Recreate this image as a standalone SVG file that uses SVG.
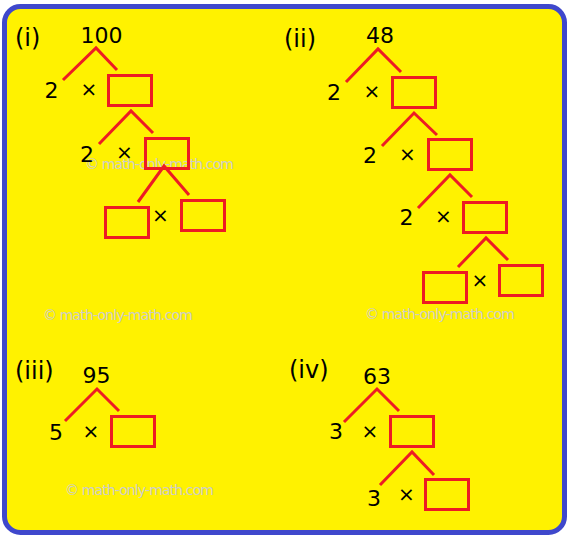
<svg xmlns="http://www.w3.org/2000/svg" width="570" height="537" viewBox="0 0 570 537">
<style>
.t{font-family:"DejaVu Sans",Verdana,sans-serif;font-size:22px;fill:#000;text-anchor:middle}
.lb{font-family:"DejaVu Sans",Verdana,sans-serif;font-size:24px;fill:#000}
.x{font-family:"DejaVu Sans",Verdana,sans-serif;font-size:20px;fill:#000;text-anchor:middle}
.wm{font-family:"DejaVu Sans",Verdana,sans-serif;font-size:14px;fill:#CDCDC8}
.box{fill:none;stroke:#ED1C24;stroke-width:3}
.ln{fill:none;stroke:#ED1C24;stroke-width:3}
</style>
<rect x="4.5" y="6.5" width="560" height="526" rx="16" fill="#FFF200" stroke="#3F48CC" stroke-width="5"/>
<g id="watermarks">
<text class="wm" x="85" y="169" textLength="149">© math-only-math.com</text>
<text class="wm" x="43" y="320" textLength="150">© math-only-math.com</text>
<text class="wm" x="365" y="319" textLength="150">© math-only-math.com</text>
<text class="wm" x="65" y="495" textLength="149">© math-only-math.com</text>
</g>
<g id="connectors">
<polyline class="ln" points="63,80 96,48 117,70"/>
<polyline class="ln" points="99,144 131,111 153,133"/>
<polyline class="ln" points="138,202 164,166 189,195"/>
<polyline class="ln" points="346,82 378,49 401,72"/>
<polyline class="ln" points="382,146 414,113 437,135"/>
<polyline class="ln" points="418,208 450,175 472,197"/>
<polyline class="ln" points="458,267 486,238 508,260"/>
<polyline class="ln" points="65,421 97,389 119,411"/>
<polyline class="ln" points="344,422 377,389 399,411"/>
<polyline class="ln" points="380,485 412,452 434,475"/>
</g>
<g id="panel-i">
<text class="lb" x="15" y="46">(i)</text>
<g id="n-100"><text class="t" x="101.5" y="43">100</text></g>
<g id="i-f1"><text class="t" x="51.5" y="98">2</text></g>
<g id="i-x1"><text class="x" x="89" y="96">×</text></g>
<g id="i-b1"><rect class="box" x="108.5" y="75.5" width="43" height="30"/></g>
<g id="i-f2"><text class="t" x="87" y="162">2</text></g>
<g id="i-x2"><text class="x" x="124.5" y="159">×</text></g>
<g id="i-b2"><rect class="box" x="145.5" y="138.5" width="43" height="30"/></g>
<g id="i-b3l"><rect class="box" x="105.5" y="207.5" width="43" height="30"/></g>
<g id="i-x3"><text class="x" x="160.5" y="222">×</text></g>
<g id="i-b3r"><rect class="box" x="181.5" y="200.5" width="43" height="30"/></g>
</g>
<g id="panel-ii">
<text class="lb" x="284" y="47">(ii)</text>
<g id="n-48"><text class="t" x="380" y="43">48</text></g>
<g id="ii-f1"><text class="t" x="334" y="100">2</text></g>
<g id="ii-x1"><text class="x" x="372" y="98">×</text></g>
<g id="ii-b1"><rect class="box" x="392.5" y="77.5" width="43" height="30"/></g>
<g id="ii-f2"><text class="t" x="370" y="163">2</text></g>
<g id="ii-x2"><text class="x" x="407.5" y="161">×</text></g>
<g id="ii-b2"><rect class="box" x="428.5" y="139.5" width="43" height="30"/></g>
<g id="ii-f3"><text class="t" x="406.5" y="225">2</text></g>
<g id="ii-x3"><text class="x" x="443.5" y="223">×</text></g>
<g id="ii-b3"><rect class="box" x="463.5" y="202.5" width="43" height="30"/></g>
<g id="ii-b4l"><rect class="box" x="423.5" y="272.5" width="43" height="30"/></g>
<g id="ii-x4"><text class="x" x="480" y="287">×</text></g>
<g id="ii-b4r"><rect class="box" x="499.5" y="265.5" width="43" height="30"/></g>
</g>
<g id="panel-iii">
<text class="lb" x="15" y="379">(iii)</text>
<g id="n-95"><text class="t" x="96.5" y="383">95</text></g>
<g id="iii-f1"><text class="t" x="56" y="440">5</text></g>
<g id="iii-x1"><text class="x" x="91" y="438">×</text></g>
<g id="iii-b1"><rect class="box" x="111.5" y="416.5" width="43" height="30"/></g>
</g>
<g id="panel-iv">
<text class="lb" x="289" y="378">(iv)</text>
<g id="n-63"><text class="t" x="377" y="384">63</text></g>
<g id="iv-f1"><text class="t" x="336" y="439">3</text></g>
<g id="iv-x1"><text class="x" x="370" y="438">×</text></g>
<g id="iv-b1"><rect class="box" x="390.5" y="416.5" width="43" height="30"/></g>
<g id="iv-f2"><text class="t" x="374" y="506">3</text></g>
<g id="iv-x2"><text class="x" x="406.5" y="501">×</text></g>
<g id="iv-b2"><rect class="box" x="425.5" y="479.5" width="43" height="30"/></g>
</g>
</svg>
